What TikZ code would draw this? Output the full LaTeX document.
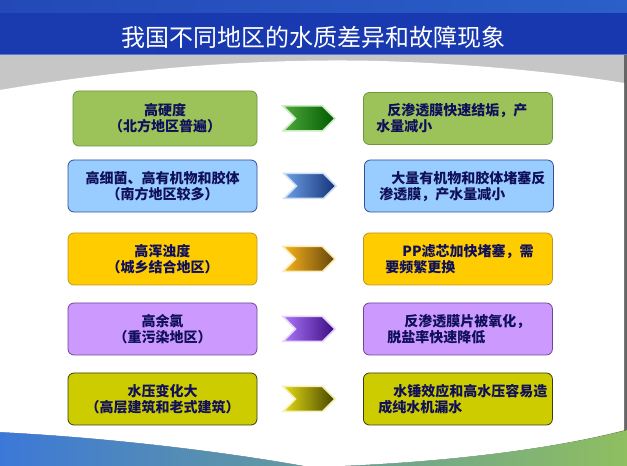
\documentclass[tikz,border=0pt]{standalone}
\usepackage{fontspec}
\newfontfamily\cjk{Noto Sans CJK SC}
\usetikzlibrary{positioning, shapes.symbols}

\definecolor{navytxt}{RGB}{16,16,90}
\definecolor{gfill}{RGB}{155,195,90}
\definecolor{gline}{RGB}{110,150,60}
\definecolor{bfill}{RGB}{153,204,255}
\definecolor{bline}{RGB}{50,80,150}
\definecolor{yfill}{RGB}{255,204,0}
\definecolor{yline}{RGB}{190,150,40}
\definecolor{pfill}{RGB}{204,153,255}
\definecolor{pline}{RGB}{110,70,150}
\definecolor{ofill}{RGB}{204,204,0}
\definecolor{oline}{RGB}{60,60,20}
% chevron colours
\definecolor{gA}{RGB}{80,170,60}   \definecolor{gB}{RGB}{0,90,0}     \definecolor{gG}{RGB}{205,235,195}
\definecolor{bA}{RGB}{110,160,230} \definecolor{bB}{RGB}{20,50,120}  \definecolor{bG}{RGB}{205,222,245}
\definecolor{yA}{RGB}{250,180,30}  \definecolor{yB}{RGB}{100,70,10}  \definecolor{yG}{RGB}{250,235,180}
\definecolor{pA}{RGB}{170,120,250} \definecolor{pB}{RGB}{60,10,130}  \definecolor{pG}{RGB}{230,215,250}
\definecolor{oA}{RGB}{230,220,20}  \definecolor{oB}{RGB}{70,70,0}    \definecolor{oG}{RGB}{245,240,180}
% background colours
\definecolor{bandL}{RGB}{60,120,216}
\definecolor{bandM}{RGB}{110,168,168}
\definecolor{bandR}{RGB}{143,191,96}
\definecolor{banL}{RGB}{26,58,176}
\definecolor{banM}{RGB}{11,26,110}
\definecolor{banR}{RGB}{24,56,176}
\definecolor{topL}{RGB}{36,72,184}
\definecolor{topM}{RGB}{90,168,224}
\definecolor{topR}{RGB}{42,96,200}
\definecolor{banedge}{RGB}{90,120,220}

\tikzset{
  box/.style={draw, rounded corners=6pt, line width=0.8pt,
    minimum width=189pt, minimum height=52pt, inner sep=0pt,
    text=navytxt, font=\cjk\bfseries\fontsize{14pt}{16pt}\selectfont},
  lbox/.style={box, align=center},
  rbox/.style={box, text width=163pt, inner xsep=13pt, align=left},
  chev/.style={signal, signal to=east, signal from=west,
    minimum width=52pt, minimum height=25pt, inner sep=0pt, line width=1.5pt},
}

\begin{document}
\begin{tikzpicture}[x=1pt, y=1pt]
  \useasboundingbox (0,0) rectangle (627,466);

  % background
  \fill[gray!45] (0,0) rectangle (627,411);
  \fill[black!60] (624,0) rectangle (627,411);
  \fill[left color=bandL, middle color=bandM, right color=bandR]
    (0,34) .. controls (120,28) and (240,12) .. (310,-1)
    .. controls (420,2) and (540,14) .. (627,36) -- (627,0) -- (0,0) -- cycle;
  \fill[white]
    (0,376) .. controls (130,398) and (260,408) .. (380,405)
    .. controls (480,402) and (570,392) .. (624,383)
    -- (624,36) .. controls (540,14) and (420,2) .. (310,-1)
    .. controls (240,12) and (120,28) .. (0,34) -- cycle;

  % banner
  \fill[left color=banL, middle color=banM, right color=banR] (0,411) rectangle (627,466);
  \fill[left color=topL, middle color=topM, right color=topR] (0,453) rectangle (627,466);
  \draw[banedge, line width=1pt] (0,411.5) -- (627,411.5);
  \node[text=white, font=\cjk\fontsize{24pt}{26pt}\selectfont] (title) at (313.5,429)
    {我国不同地区的水质差异和故障现象};

  % rows
  \node[lbox, fill=gfill, draw=gline, minimum width=184pt, minimum height=55pt] (L1) at (165,347.5)
    {高硬度\\（北方地区普遍）};
  \node[chev, draw=gG, left color=gA, right color=gB, right=37pt of L1] (A1) {};
  \node[rbox, fill=gfill, draw=gline, right=27pt of A1] (R1)
    {\hspace*{11pt}反渗透膜快速结垢，产\\水量减小};

  \node[lbox, fill=bfill, draw=bline] (L2) at (162.5,280)
    {高细菌、高有机物和胶体\\（南方地区较多）};
  \node[chev, draw=bG, left color=bA, right color=bB, right=38pt of L2] (A2) {};
  \node[rbox, fill=bfill, draw=bline, right=27pt of A2] (R2)
    {\hspace*{14pt}大量有机物和胶体堵塞反\\\hspace*{2pt}渗透膜，产水量减小};

  \node[lbox, fill=yfill, draw=yline] (L3) at (162.5,207)
    {高浑浊度\\（城乡结合地区）};
  \node[chev, draw=yG, left color=yA, right color=yB, right=37pt of L3] (A3) {};
  \node[rbox, fill=yfill, draw=yline, right=27pt of A3] (R3)
    {\hspace*{26pt}PP滤芯加快堵塞，需\\\hspace*{9pt}要频繁更换};

  \node[lbox, fill=pfill, draw=pline] (L4) at (162.5,137)
    {高余氯\\（重污染地区）};
  \node[chev, draw=pG, left color=pA, right color=pB, right=37pt of L4] (A4) {};
  \node[rbox, fill=pfill, draw=pline, right=27pt of A4] (R4)
    {\hspace*{28pt}反渗透膜片被氧化，\\\hspace*{11pt}脱盐率快速降低};

  \node[lbox, fill=ofill, draw=oline] (L5) at (162.5,67)
    {水压变化大\\（高层建筑和老式建筑）};
  \node[chev, draw=oG, left color=oA, right color=oB, right=37pt of L5] (A5) {};
  \node[rbox, fill=ofill, draw=oline, right=27pt of A5] (R5)
    {\hspace*{17pt}水锤效应和高水压容易造\\\hspace*{2pt}成纯水机漏水};
\end{tikzpicture}
\end{document}
